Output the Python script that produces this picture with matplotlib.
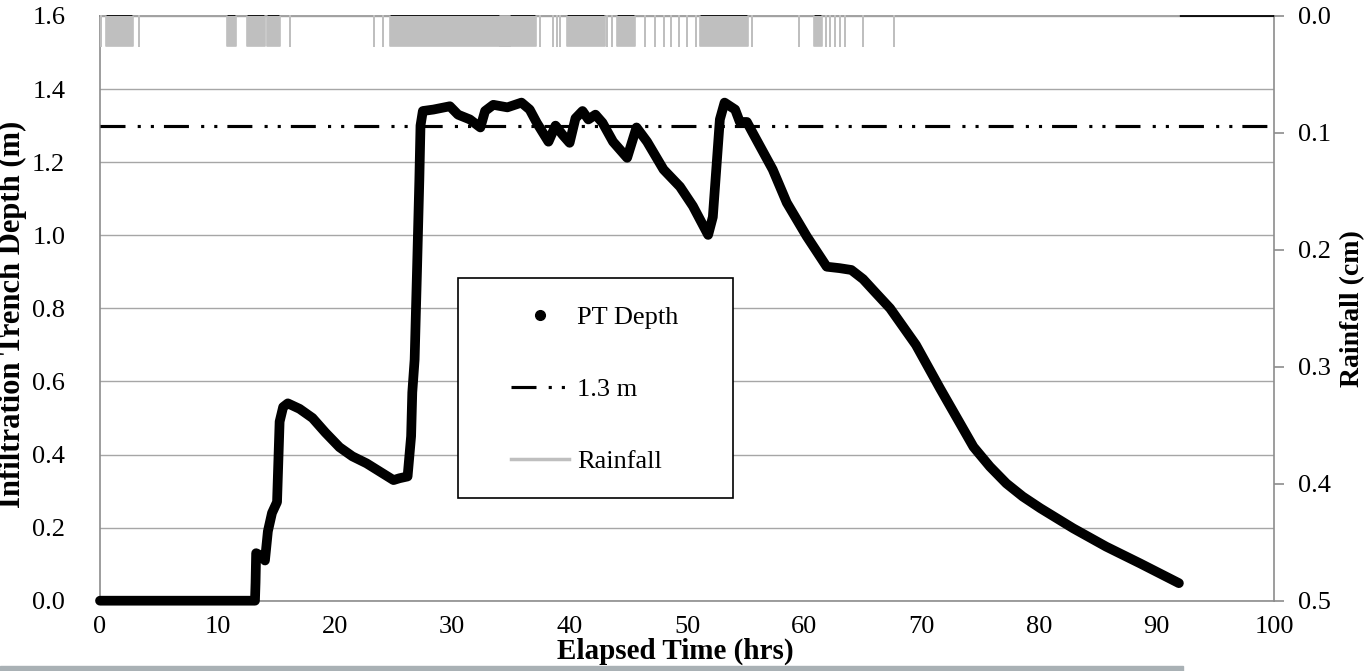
import matplotlib
matplotlib.use('Agg')
import matplotlib.pyplot as plt
from matplotlib.lines import Line2D
from matplotlib.patches import Rectangle
import numpy as np

plt.rcParams['font.family'] = ['Liberation Serif', 'DejaVu Serif']

## PT depth readings (hrs, m)
time_hrs = [0.0, 13.2,
            13.25, 13.3, 13.9, 14.05, 14.3, 14.65, 15.08, 15.3, 15.6, 16.0,
            17.0, 18.1, 19.2, 20.4, 21.5, 22.7, 25.0, 25.5, 26.2, 26.5, 26.6,
            26.8, 27.0, 27.2, 27.3, 27.5, 28.4, 29.8, 30.5, 31.5, 32.4, 32.8,
            33.5, 34.7, 35.9, 36.6, 37.2, 38.2, 38.8, 39.4, 40.0, 40.5, 41.1,
            41.6, 42.2, 42.8, 43.7, 44.9, 45.7, 46.6, 48.0, 49.4, 50.5, 51.8,
            52.2, 52.8, 53.2, 54.1, 54.5, 55.1, 55.6, 57.3, 58.5, 60.2, 61.9,
            63.0, 64.0, 65.0, 66.0, 67.3, 69.5, 71.55, 74.4, 75.8, 77.2, 78.6,
            80.1, 82.9, 85.7, 88.6, 91.9]
depth_m = [0.0, 0.0,
           0.05, 0.13, 0.12, 0.11, 0.19, 0.24, 0.27, 0.49, 0.53, 0.54,
           0.525, 0.50, 0.46, 0.42, 0.395, 0.376, 0.33, 0.335, 0.34, 0.45, 0.57,
           0.66, 0.90, 1.15, 1.30, 1.34, 1.344, 1.353, 1.33, 1.317, 1.295, 1.34,
           1.357, 1.35, 1.363, 1.344, 1.308, 1.256, 1.30, 1.275, 1.253, 1.32, 1.34,
           1.317, 1.33, 1.308, 1.256, 1.212, 1.295, 1.256, 1.18, 1.133, 1.08, 1.001,
           1.05, 1.317, 1.363, 1.344, 1.31, 1.31, 1.28, 1.18, 1.089, 0.997, 0.914,
           0.91, 0.905, 0.88, 0.845, 0.80, 0.70, 0.581, 0.421, 0.367, 0.321, 0.285,
           0.253, 0.198, 0.148, 0.102, 0.048]

threshold_m = 1.3

## rainfall tips (hrs); each tip period records 0.0254 cm
rain_start = [0.05, 0.5, 3.3, 10.8, 12.5, 14.2, 16.2, 23.3, 24.1, 24.7, 34.1,
              37.5, 38.6, 38.9, 39.2, 39.75, 43.2, 43.6, 44.0, 46.4, 47.3, 48.0,
              48.6, 49.3, 50.0, 50.8, 51.1, 55.5, 59.5, 60.8, 61.8, 62.2, 62.6,
              63.0, 63.5, 65.0, 67.6]
rain_end = [0.05, 2.8, 3.3, 11.6, 14.05, 15.3, 16.2, 23.3, 24.1, 34.9, 37.1,
            37.5, 38.6, 38.9, 39.2, 43.0, 43.2, 43.6, 45.6, 46.4, 47.3, 48.0,
            48.6, 49.3, 50.0, 50.8, 55.2, 55.5, 59.5, 61.5, 61.8, 62.2, 62.6,
            63.0, 63.5, 65.0, 67.6]
rain_tip_cm = 0.0254
record_end_hrs = 91.9

## build rainfall trace
rt, rv = [0.0], [0.0]
for s, e in zip(rain_start, rain_end):
    rt += [s, s, e, e]
    rv += [0.0, rain_tip_cm, rain_tip_cm, 0.0]
rt.append(record_end_hrs)
rv.append(0.0)

fig = plt.figure(figsize=(13.65, 6.71), dpi=100)
ax = fig.add_axes([100/1365, 1-600.7/671, 1174/1365, 584.7/671])
ax2 = ax.twinx()

grey = '#8c8c8c'
fs = 19

## primary axis
ax.set_xlim(0, 100)
ax.set_ylim(0, 1.6)
ax.set_xticks(np.arange(0, 101, 10))
ax.set_yticks(np.arange(0, 1.61, 0.2))
ax.set_yticklabels([f'{v:.1f}' for v in np.arange(0, 1.61, 0.2)])
ax.yaxis.grid(True, color='#a6a6a6', lw=1.0)
ax.set_axisbelow(True)
ax.tick_params(axis='x', length=0, pad=11, labelsize=fs)
ax.tick_params(axis='y', length=0, pad=25, labelsize=fs)
for sp in ['left', 'bottom', 'right']:
    ax.spines[sp].set_color(grey)
    ax.spines[sp].set_linewidth(1.2)
ax.spines['top'].set_color('black')
ax.spines['top'].set_linewidth(1.3)

ax.plot(time_hrs, depth_m, color='black', lw=7, solid_joinstyle='round',
        solid_capstyle='round', zorder=4, clip_on=False)
ax.axhline(threshold_m, color='black', lw=2.25, dashes=(8, 3.9, 1, 3.2, 1, 3.2),
           zorder=3)

ax.set_xlabel('Elapsed Time (hrs)', fontsize=21, fontweight='bold')
ax.xaxis.set_label_coords(0.49, -0.087)
ax.xaxis.label.set_va('center')
ax.set_ylabel('Infiltration Trench Depth (m)', fontsize=22, fontweight='bold')
ax.yaxis.set_label_coords(-0.0745, 0.49)
ax.yaxis.label.set_va('center')

## secondary axis (rainfall, inverted)
ax2.set_ylim(0.5, 0.0)
ax2.set_yticks(np.arange(0, 0.51, 0.1))
ax2.set_yticklabels([f'{v:.1f}' for v in np.arange(0, 0.51, 0.1)])
ax2.tick_params(axis='y', length=7, width=1.2, color=grey, pad=10, labelsize=fs)
for sp in ax2.spines.values():
    sp.set_visible(False)
ax2.fill_between(rt, rv, 0, color='#bfbfbf', lw=0, zorder=2)
ax2.plot(rt, rv, color='#bfbfbf', lw=1.2, zorder=5, clip_on=False)
ax2.set_ylabel('Rainfall (cm)', fontsize=20, fontweight='bold')
ax2.yaxis.set_label_coords(1.067, 0.5)
ax2.yaxis.label.set_va('center')

## legend box drawn separately so its size matches
ax2.add_patch(Rectangle((0.305, 0.176), 0.234, 0.376, transform=ax.transAxes,
                        facecolor='white', edgecolor='black', lw=1.2,
                        zorder=6, clip_on=False))
handles = [
    Line2D([], [], color='black', marker='o', ls='none', ms=7),
    Line2D([], [], color='black', lw=2.25, dashes=(8, 3.9, 1, 3.2, 1, 3.2)),
    Line2D([], [], color='#bfbfbf', lw=2.5),
]
leg = ax2.legend(handles, ['PT Depth', '1.3 m', 'Rainfall'], loc='upper left',
                 bbox_to_anchor=(0.35, 0.505), fontsize=fs, frameon=False,
                 labelspacing=1.85, handlelength=2.2, handletextpad=0.3,
                 borderpad=0, borderaxespad=0)
leg.set_zorder(7)

## grey strip along the bottom edge
fig.patches.append(Rectangle((0, 0), 1183/1365, 5/671, transform=fig.transFigure,
                             color='#a9b1b5', zorder=0))

fig.savefig('out.png', dpi=100)
